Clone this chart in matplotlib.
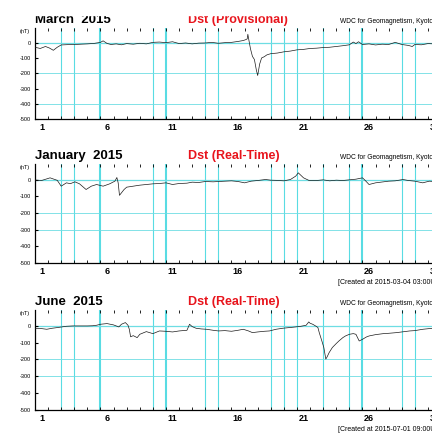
import matplotlib
matplotlib.use('Agg')
import matplotlib.pyplot as plt
from matplotlib.patches import Rectangle

plt.rcParams['font.family'] = ['Liberation Sans', 'DejaVu Sans']

# Dst values, time in days since start of day 1
mar_t = [0, 0.4, 0.8, 1.1, 1.4, 1.7, 2.0, 2.5, 3.0, 3.5, 4.0, 4.5, 5.0, 5.2, 5.5, 5.8, 6.2, 6.6,
         7.0, 7.5, 8.0, 8.5, 9.0, 9.5, 10.0, 10.5, 11.0, 11.5, 12.0, 12.5, 13.0, 13.5, 14.0, 14.5,
         15.0, 15.5, 15.9, 16.1, 16.2, 16.25, 16.3, 16.45, 16.6, 16.75, 16.9, 17.0, 17.15, 17.3,
         17.5, 17.7, 18.0, 18.5, 19.0, 19.5, 20.0, 20.5, 21.0, 21.5, 22.0, 22.5, 23.0, 23.5, 24.0,
         24.3, 24.5, 24.7, 25.0, 25.5, 26.0, 26.5, 27.0, 27.5, 28.0, 28.5, 28.8, 29.0, 29.5, 30.0,
         30.5, 31.0]
mar_dst = [-30, -38, -25, -35, -50, -30, -15, -13, -12, -10, -8, -5, 2, 12, -5, -12, -8, -14,
           -6, -10, -4, -8, 2, 4, 0, 6, -6, -2, -8, -3, -2, 2, -4, 0,
           2, 8, 14, 20, 25, 55, 30, -40, -90, -110, -180, -215, -140, -100,
           -92, -80, -72, -68, -60, -55, -47, -44, -38, -36, -32, -30, -25, -20, -14,
           4, -6, 6, -12, -8, -15, -10, -12, 2, -12, -18, -25, -12, -14, -6,
           -8, -5]

jan_t = [0, 0.5, 1.15, 1.7, 2.0, 2.4, 2.7, 3.05, 3.4, 3.9, 4.3, 4.7, 5.2, 5.7, 6.1, 6.25, 6.35,
         6.45, 6.6, 6.8, 7.0, 7.5, 8.0, 8.5, 9.0, 9.5, 10.0, 10.5, 11.0, 11.6, 12.0, 12.5, 13.0,
         13.6, 14.0, 14.5, 15.0, 15.5, 16.0, 16.5, 17.0, 17.6, 18.0, 18.4, 19.0, 19.5, 19.9, 20.1,
         20.3, 20.5, 20.9, 21.5, 22.0, 22.5, 23.0, 23.5, 24.0, 24.5, 25.0, 25.2, 25.5, 26.0, 26.6,
         27.0, 27.5, 28.1, 28.5, 29.0, 29.6, 30.1, 30.5, 31.0]
jan_dst = [-3, -6, 10, -5, -40, -20, -25, -14, -26, -60, -40, -30, -40, -26, -10, 12, -20,
           -95, -80, -60, -46, -40, -34, -30, -26, -24, -20, -30, -24, -22, -16, -18, -12,
           -14, -12, -10, -8, -12, -20, -10, -6, 0, -4, -5, -8, 0, 20, 40,
           25, 10, -5, -6, -2, -8, -4, -6, -2, 2, 10, -5, -30, -20, -14,
           -10, -8, 0, -6, -10, -20, -10, -12, -8]

jun_t = [0, 0.5, 0.9, 1.3, 1.7, 2.4, 2.9, 3.5, 4.0, 4.4, 4.7, 5.0, 5.5, 6.0, 6.4, 6.6, 6.9, 7.1,
         7.2, 7.3, 7.5, 7.8, 8.0, 8.5, 9.0, 9.5, 10.0, 10.5, 11.0, 11.6, 11.8, 12.0, 12.3, 12.7,
         13.1, 13.6, 14.0, 14.5, 15.0, 15.5, 15.9, 16.3, 16.6, 17.0, 17.5, 17.9, 18.4, 18.9, 19.4,
         19.9, 20.3, 20.7, 20.9, 21.0, 21.2, 21.5, 21.6, 21.7, 21.9, 22.05, 22.2, 22.3, 22.45,
         22.7, 23.0, 23.2, 23.5, 23.7, 24.0, 24.3, 24.5, 24.75, 25.0, 25.3, 25.5, 26.0, 26.6,
         27.0, 27.6, 28.0, 28.6, 29.0, 29.6, 30.1, 30.5]
jun_dst = [-14, -16, -20, -14, -10, -2, 0, 0, 0, 1, 4, 10, 14, 6, -6, 10, 20, 4,
           -20, -65, -58, -70, -50, -34, -46, -30, -32, -36, -30, -26, 10, -4, -14, -18,
           -20, -26, -30, -28, -32, -26, -20, -30, -40, -36, -32, -30, -20, -14, -10,
           -6, -2, 4, 24, 16, 10, -4, -10, -40, -90, -129, -198, -185, -160,
           -129, -105, -90, -70, -60, -50, -46, -50, -90, -80, -66, -60, -52, -46,
           -44, -40, -36, -30, -28, -20, -16, -15]

months = ['March  2015', 'January  2015', 'June  2015']
kinds = ['Dst (Provisional)', 'Dst (Real-Time)', 'Dst (Real-Time)']
series = [(mar_t, mar_dst), (jan_t, jan_dst), (jun_t, jun_dst)]
hgrid = [[0, -200, -400], [0, -200, -300], [0, -200, -300]]
vgrid = [2, 3, 5, 9, 10, 13, 14, 18, 19, 20, 22, 24, 25, 28, 29]
vthick = [5, 10, 25]
created = [None, '[Created at 2015-03-04 03:00UT]', '[Created at 2015-07-01 09:00UT]']

# axes rectangles in figure fraction (extend past right edge like the clipped original)
boxes = [[0.081, 0.725, 0.94, 0.210],
         [0.081, 0.393, 0.94, 0.229],
         [0.081, 0.054, 0.94, 0.230]]

fig = plt.figure(figsize=(4.32, 4.33), dpi=100)

for i in range(3):
    ax = fig.add_axes(boxes[i])
    t, d = series[i]
    for x in vgrid:
        lw = 1.5 if x in vthick else 0.8
        ax.axvline(x, color='#3cd6de', lw=lw, alpha=0.85, zorder=1)
    for y in hgrid[i]:
        ax.axhline(y, color='#6edde3', lw=0.9 if y == 0 else 0.6, zorder=1)
    ax.plot(t, d, color='#1a1a1a', lw=0.5, zorder=3)
    ax.set_xlim(0, 31)
    ax.set_ylim(-500, 95)

    ax.set_yticks([0, -100, -200, -300, -400, -500])
    ax.set_yticklabels(['0', '-100', '-200', '-300', '-400', '-500'])
    ax.tick_params(axis='y', labelsize=4, length=2, direction='in', pad=3)

    ax.set_xticks(range(32))
    ax.set_xticklabels([])
    ax.set_xticks([0.5, 5.5, 10.5, 15.5, 20.5, 25.5, 30.5], minor=True)
    ax.set_xticklabels(['1', '6', '11', '16', '21', '26', '31'], minor=True,
                       fontweight='bold', fontsize=6.5)
    ax.tick_params(axis='x', which='major', direction='in', length=2, top=True, width=0.6)
    ax.tick_params(axis='x', which='minor', length=0, pad=3)

    ax.spines['top'].set_visible(False)
    ax.spines['right'].set_visible(False)
    ax.spines['left'].set_linewidth(0.9)
    ax.spines['bottom'].set_linewidth(0.9)

    ax.text(-0.012, 0.965, '(nT)', transform=ax.transAxes, ha='right', va='center', fontsize=4)
    ax.text(0.0, 1.02, months[i], transform=ax.transAxes, ha='left', va='bottom',
            fontsize=9.5, fontweight='bold')
    ax.text(0.377, 1.02, kinds[i], transform=ax.transAxes, ha='left', va='bottom',
            fontsize=9, fontweight='bold', color='#e8141c')
    ax.text(0.75, 1.03, 'WDC for Geomagnetism, Kyoto', transform=ax.transAxes,
            ha='left', va='bottom', fontsize=4.8)
    if created[i]:
        ax.text(0.747, -0.2, created[i], transform=ax.transAxes, ha='left', va='center',
                fontsize=5)

# the top of the first panel's title is cut off in the original image
fig.patches.append(Rectangle((0, 1 - 15 / 433), 1, 15 / 433, transform=fig.transFigure,
                             color='white', zorder=10))

fig.savefig('out.png', dpi=100)
